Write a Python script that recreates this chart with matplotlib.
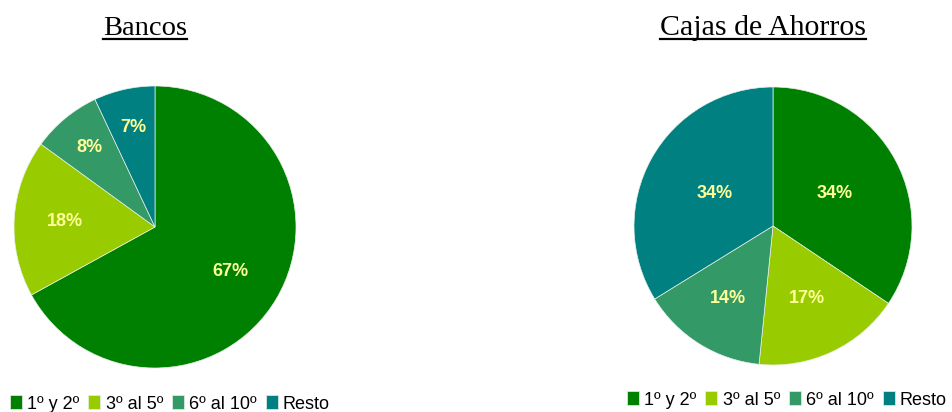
import matplotlib
matplotlib.use("Agg")
import numpy as np
import matplotlib.pyplot as plt
from matplotlib.lines import Line2D

# data
categories = ["1º y 2º", "3º al 5º", "6º al 10º", "Resto"]
bancos = [67, 18, 8, 7]
cajas = [34.4, 17.2, 14.6, 33.8]
bancos_labels = ["67%", "18%", "8%", "7%"]
cajas_labels = ["34%", "17%", "14%", "34%"]
colors = ["#008000", "#99CC00", "#339966", "#008080"]

W, H = 952, 412
fig = plt.figure(figsize=(W / 100, H / 100), dpi=100)


def draw_pie(cx, cy, r, values, labels, dists):
    pad = 1.02
    ax = fig.add_axes([(cx - r * pad) / W, (H - cy - r * pad) / H,
                       2 * r * pad / W, 2 * r * pad / H])
    wedges, _ = ax.pie(values, colors=colors, startangle=90, counterclock=False,
                       wedgeprops=dict(edgecolor="#e8f0e8", linewidth=0.5))
    # label placement roughly like the original (best fit)
    for w, lab, d in zip(wedges, labels, dists):
        ang = np.deg2rad((w.theta1 + w.theta2) / 2)
        ax.text(d * np.cos(ang), d * np.sin(ang), lab, ha="center", va="center",
                color="#FFFF99", fontsize=13, fontweight="bold",
                family="Liberation Sans")
    ax.set_xlim(-pad, pad)
    ax.set_ylim(-pad, pad)
    ax.set_aspect("equal")
    ax.axis("off")
    return wedges


def draw_title(x, y, text, size):
    t = fig.text(x / W, 1 - y / H, text, ha="center", va="baseline",
                 fontsize=size, family="Liberation Serif")
    fig.canvas.draw()
    bb = t.get_window_extent()
    line_y = (H - y - 4) / H
    fig.add_artist(Line2D([bb.x0 / W, bb.x1 / W], [line_y, line_y],
                          color="black", linewidth=1.6))


w1 = draw_pie(155, 227, 141, bancos, bancos_labels, [0.62, 0.64, 0.735, 0.72])
w2 = draw_pie(773, 226, 139, cajas, cajas_labels, [0.5, 0.58, 0.615, 0.48])

draw_title(145, 35, "Bancos", 20.5)
draw_title(763, 35, "Cajas de Ahorros", 21.5)

legend_kw = dict(ncol=4, frameon=False, handlelength=0.65, handleheight=0.8,
                 handletextpad=0.3, columnspacing=0.5, borderpad=0,
                 borderaxespad=0,
                 prop={"family": "Liberation Sans", "size": 13})
fig.legend(w1, categories, loc="center left",
           bbox_to_anchor=(10 / W, 1 - 404 / H), **legend_kw)
fig.legend(w2, categories, loc="center left",
           bbox_to_anchor=(627 / W, 1 - 400 / H), **legend_kw)

fig.savefig("out.png", dpi=100)
